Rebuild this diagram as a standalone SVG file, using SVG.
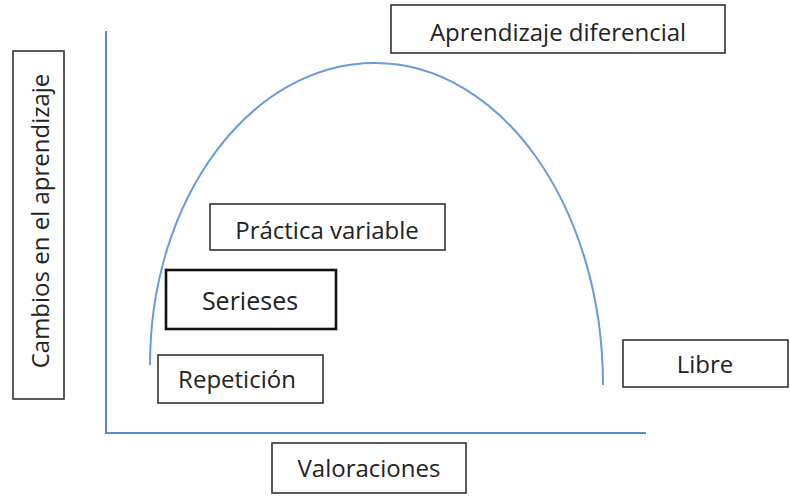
<svg xmlns="http://www.w3.org/2000/svg" width="790" height="497" viewBox="0 0 790 497">
<style>
.box{fill:#fff;stroke:#333;stroke-width:1.6}
.bold{fill:#fff;stroke:#111;stroke-width:2.6}
.t{font-family:"Open Sans","Noto Sans","Liberation Sans",sans-serif;font-size:24px;fill:#222;text-anchor:middle}
.axis{fill:none;stroke:#5a8ad0;stroke-width:2}
.curve{fill:none;stroke:#6a9ad8;stroke-width:2}
</style>
<rect width="790" height="497" fill="#fff"/>
<g id="connectors">
<polyline class="axis" points="106,31 106,433 646,433"/>
<path class="curve" d="M150,365 C150,198 251,63 375,63 C501,63 603,207 603,385"/>
</g>
<g id="ylabel"><rect class="box" x="13" y="51" width="51" height="348"/><text class="t" transform="translate(49,221) rotate(-90)">Cambios en el aprendizaje</text></g>
<g id="aprendizaje"><rect class="box" x="391" y="5" width="334" height="48"/><text class="t" x="558" y="41">Aprendizaje diferencial</text></g>
<g id="practica"><rect class="box" x="210" y="204" width="235" height="46"/><text class="t" x="327" y="239">Práctica variable</text></g>
<g id="serieses"><rect class="bold" x="166" y="270" width="170" height="59"/><text class="t" x="250" y="310" style="font-size:25px">Serieses</text></g>
<g id="repeticion"><rect class="box" x="158" y="355" width="165" height="48"/><text class="t" x="237" y="388">Repetición</text></g>
<g id="libre"><rect class="box" x="623" y="340" width="165" height="47"/><text class="t" x="705" y="373">Libre</text></g>
<g id="valoraciones"><rect class="box" x="272" y="443" width="194" height="50"/><text class="t" x="369" y="477">Valoraciones</text></g>
</svg>
